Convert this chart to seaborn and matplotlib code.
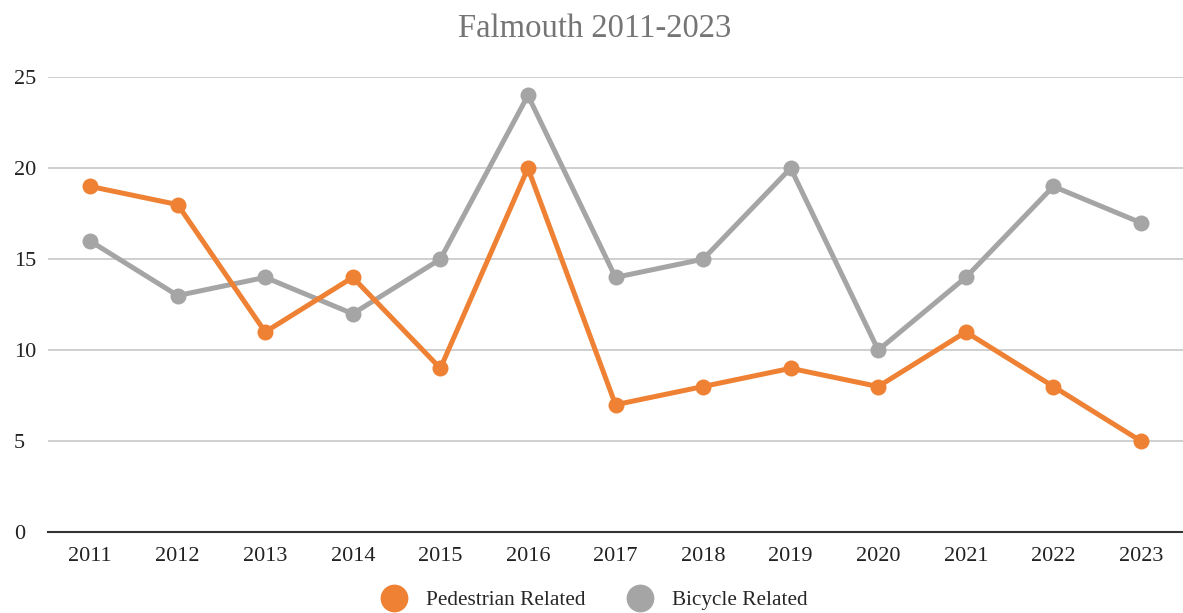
import pandas as pd
import matplotlib.pyplot as plt
import seaborn as sns
from matplotlib.lines import Line2D

years = [2011, 2012, 2013, 2014, 2015, 2016, 2017, 2018, 2019, 2020, 2021, 2022, 2023]
pedestrian = [19, 18, 11, 14, 9, 20, 7, 8, 9, 8, 11, 8, 5]
bicycle = [16, 13, 14, 12, 15, 24, 14, 15, 20, 10, 14, 19, 17]
series_names = ['Pedestrian Related', 'Bicycle Related']
colors = ['#EE8133', '#A5A5A5']

df = pd.DataFrame({
    'Year': years * 2,
    'Count': pedestrian + bicycle,
    'Series': [series_names[0]] * len(years) + [series_names[1]] * len(years),
})

sns.set_style('white')
plt.rcParams['font.family'] = ['Liberation Serif', 'DejaVu Serif']

fig = plt.figure(figsize=(11.83, 6.13), dpi=100)
ax = fig.add_axes([0.0406, 0.132, 0.9594, 0.742])

# draw grey first so orange sits on top where they overlap
for name, col in [(series_names[1], colors[1]), (series_names[0], colors[0])]:
    sns.lineplot(data=df[df['Series'] == name], x='Year', y='Count', color=col,
                 linewidth=3.6, marker='o', markersize=11.5, markeredgewidth=0, ax=ax)

ax.set_xlim(2010.52, 2023.48)
ax.set_ylim(0, 25)
ax.set_yticks([0, 5, 10, 15, 20, 25])
ax.set_xticks(years)
ax.set_xticklabels([str(y) for y in years])
ax.yaxis.grid(True, color='#CCCCCC', linewidth=1.3)
ax.xaxis.grid(False)
for s in ['top', 'right', 'left']:
    ax.spines[s].set_visible(False)
ax.spines['bottom'].set_color('#333333')
ax.spines['bottom'].set_linewidth(1.5)
ax.tick_params(axis='both', length=0, labelsize=16, colors='#222222')
ax.tick_params(axis='x', pad=10.5)
ax.tick_params(axis='y', pad=24.5)
for lbl in ax.get_yticklabels():
    lbl.set_horizontalalignment('left')
ax.set_xlabel('')
ax.set_ylabel('')

fig.text(0.503, 0.953, 'Falmouth 2011-2023', ha='center', va='center',
         fontsize=23.5, color='#757575')

handles = [Line2D([], [], linestyle='none', marker='o', markersize=20, markeredgewidth=0,
                  color=c) for c in colors]
fig.legend(handles, series_names, loc='center', bbox_to_anchor=(0.499, 0.021), ncol=2,
           frameon=False, fontsize=15.3, handletextpad=0.5, columnspacing=1.55)

fig.savefig('out.png', dpi=100)
